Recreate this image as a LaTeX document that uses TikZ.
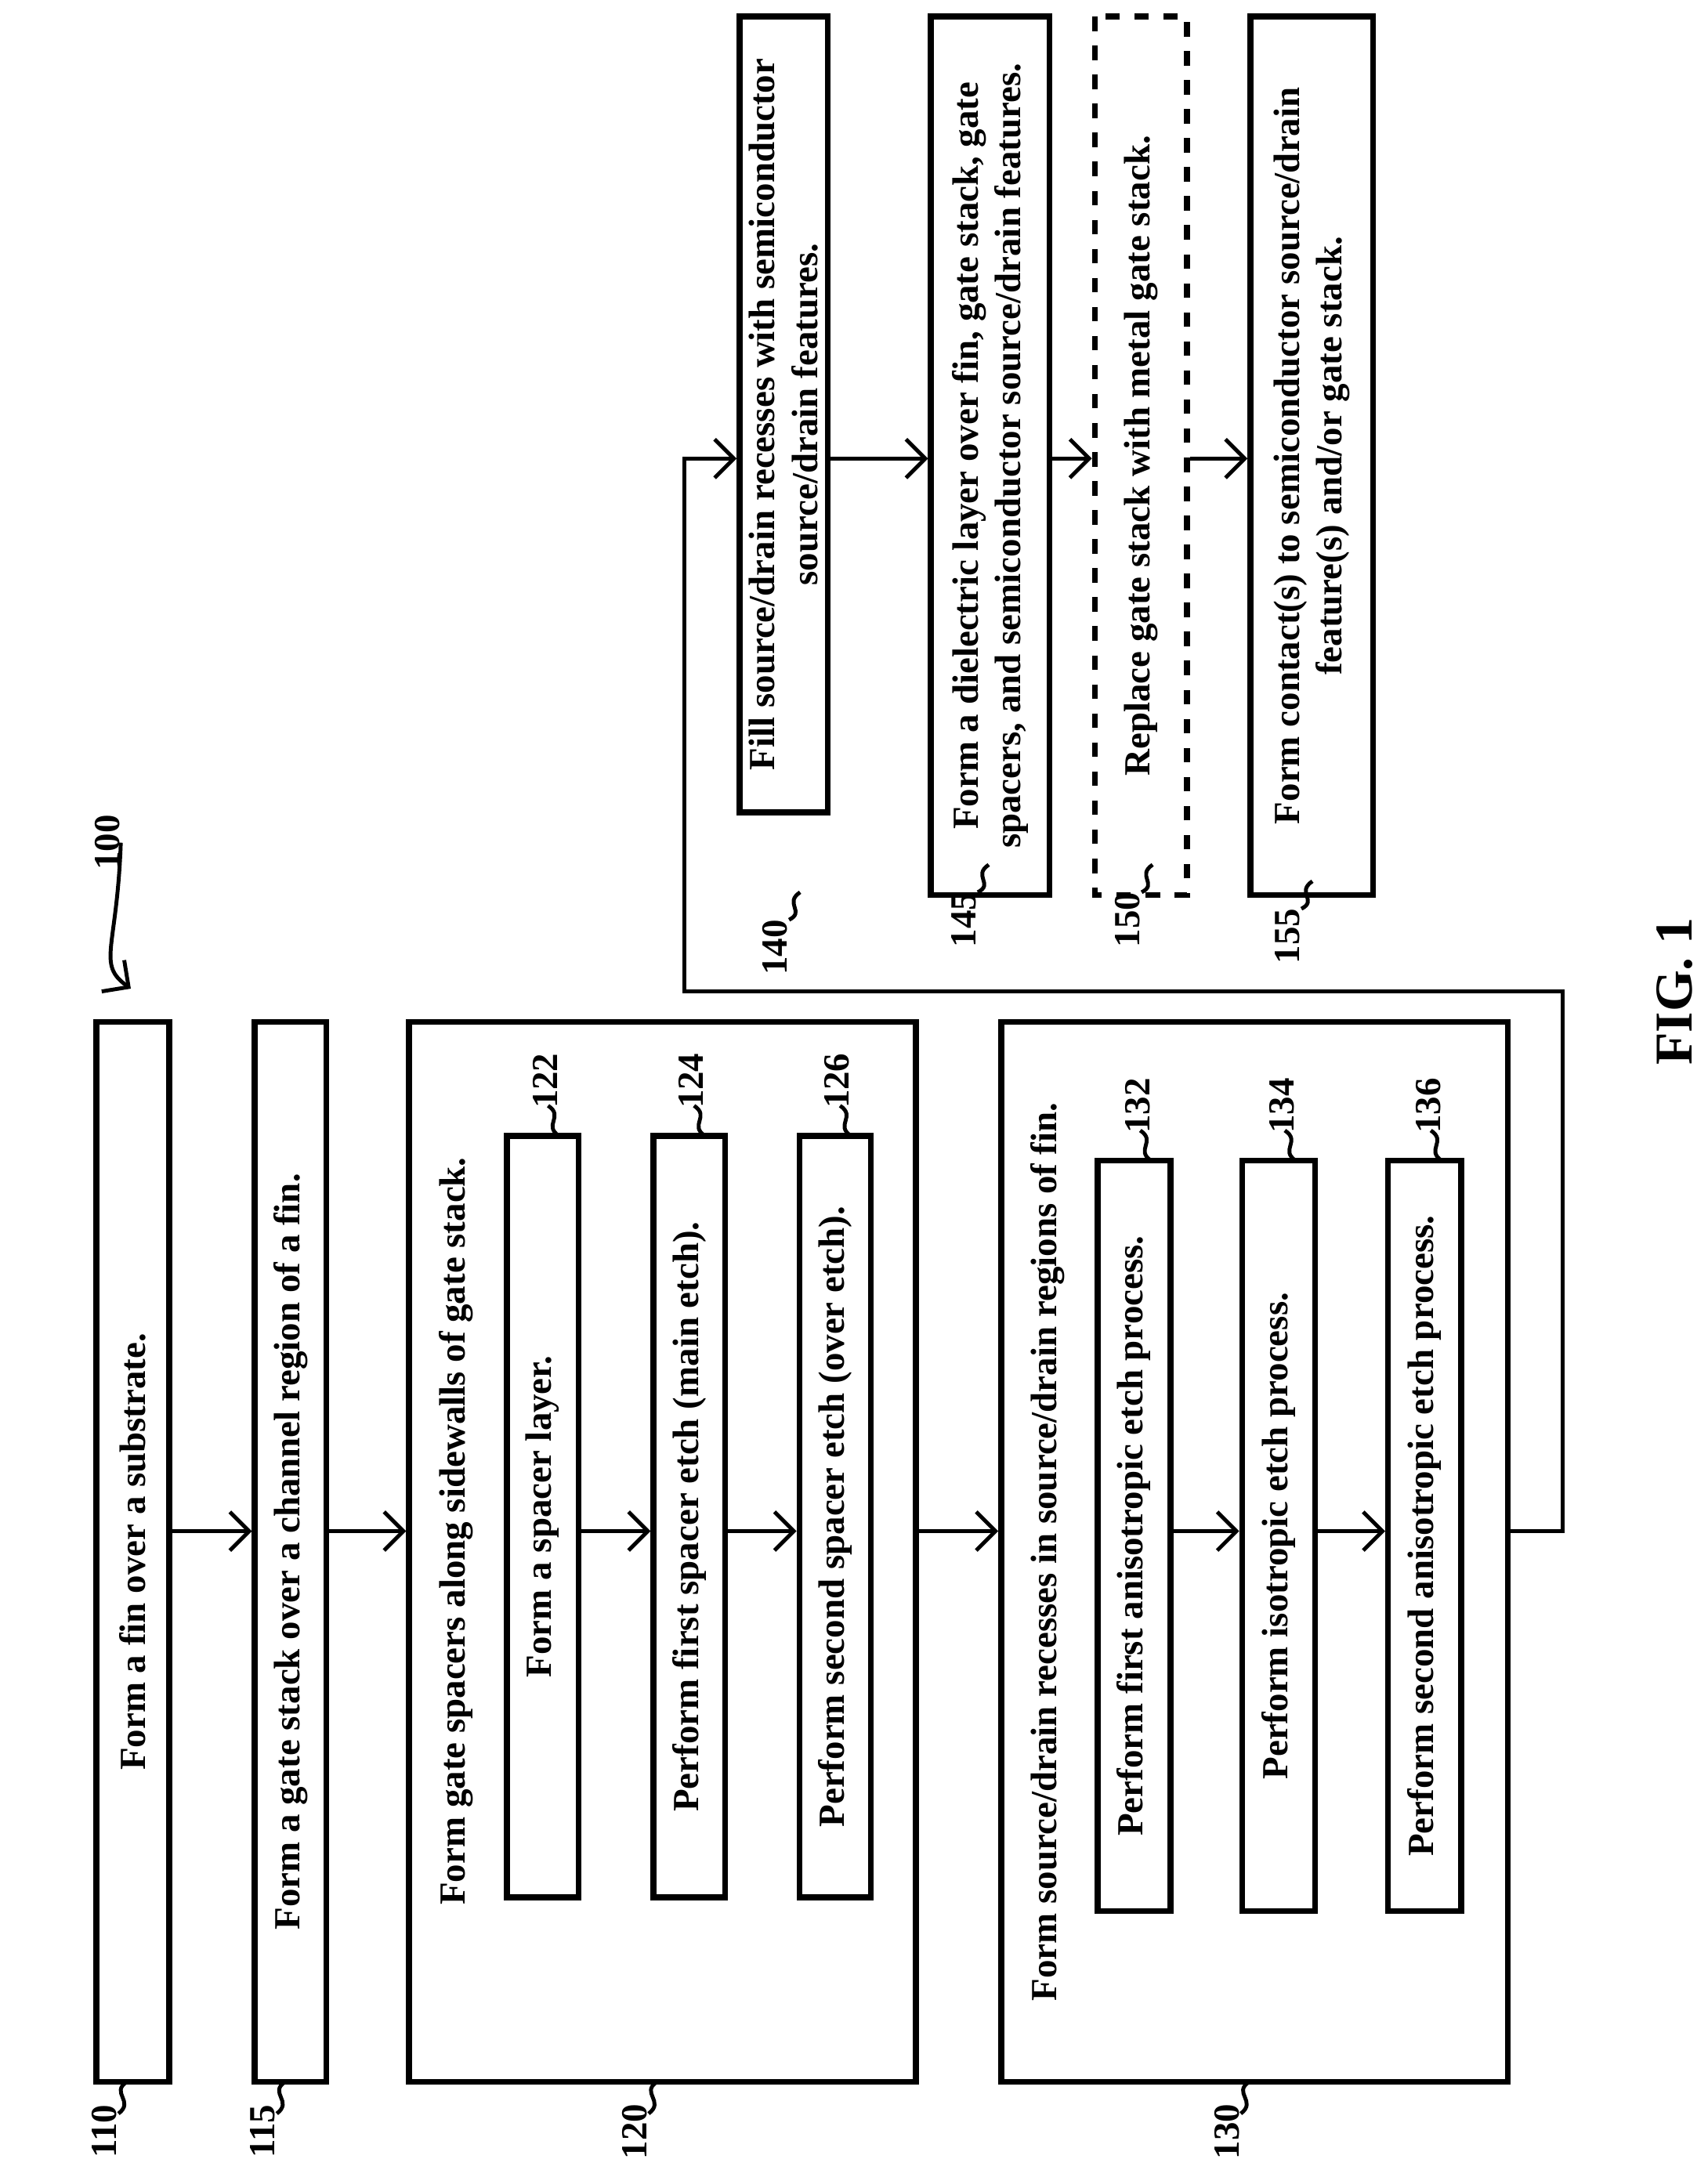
\documentclass[tikz,border=0pt]{standalone}
\usepackage{fontspec}
\setmainfont{Liberation Serif}
\usetikzlibrary{arrows.meta}
\tikzset{
  procbox/.style={draw, very thick, rotate=90, align=center, inner sep=2pt, font=\bfseries\fontsize{7.6}{8.8}\selectfont},
  arr/.style={thick, -{Straight Barb[length=1.4mm]}},
  lbl/.style={rotate=90, inner sep=0pt, font=\bfseries\fontsize{7.6}{8.8}\selectfont},
  sq/.style={thick}
}
\begin{document}
\begin{tikzpicture}[x=0.1mm, y=-0.1mm]
\useasboundingbox (0,0) rectangle (1240,1568);

% outer steps
\node[procbox, minimum width=77mm, minimum height=5.3mm] (b110) at (96.5,1127) {Form a fin over a substrate.};
\node[procbox, minimum width=77mm, minimum height=5.2mm] (b115) at (211,1127) {Form a gate stack over a channel region of a fin.};
\node[procbox, minimum width=77mm, minimum height=36.8mm] (b120) at (481,1127) {};
\node[procbox, minimum width=77mm, minimum height=36.8mm] (b130) at (911,1127) {};
\node[lbl] (t120) at (331,1112) {Form gate spacers along sidewalls of gate stack.};
\node[lbl] (t130) at (761,1127) {Form source/drain recesses in source/drain regions of fin.};

% sub steps
\node[procbox, minimum width=55.3mm, minimum height=5.2mm] (b122) at (394,1101.5) {Form a spacer layer.};
\node[procbox, minimum width=55.3mm, minimum height=5.2mm] (b124) at (500.5,1101.5) {Perform first spacer etch (main etch).};
\node[procbox, minimum width=55.3mm, minimum height=5.2mm] (b126) at (606.5,1101.5) {Perform second spacer etch (over etch).};
\node[procbox, minimum width=54.5mm, minimum height=5.3mm] (b132) at (823.5,1115.5) {Perform first anisotropic etch process.};
\node[procbox, minimum width=54.5mm, minimum height=5.3mm] (b134) at (928.5,1115.5) {Perform isotropic etch process.};
\node[procbox, minimum width=54.5mm, minimum height=5.3mm] (b136) at (1034.5,1115.5) {Perform second anisotropic etch process.};

% later steps
\node[procbox, minimum width=57.8mm, minimum height=5.6mm] (b140) at (569,301) {Fill source/drain recesses with semiconductor\\source/drain features.};
\node[procbox, minimum width=63.8mm, minimum height=8.6mm] (b145) at (719,331) {Form a dielectric layer over fin, gate stack, gate\\spacers, and semiconductor source/drain features.};
\node[procbox, dashed, minimum width=63.8mm, minimum height=6.7mm] (b150) at (828.5,331) {Replace gate stack with metal gate stack.};
\node[procbox, minimum width=63.8mm, minimum height=8.9mm] (b155) at (952.5,331) {Form contact(s) to semiconductor source/drain\\feature(s) and/or gate stack.};

% connectors
\coordinate (ay) at (0,1112);
\coordinate (by) at (0,333);
\draw[arr] (b110.south |- ay) -- (b115.north |- ay);
\draw[arr] (b115.south |- ay) -- (b120.north |- ay);
\draw[arr] (b122.south |- ay) -- (b124.north |- ay);
\draw[arr] (b124.south |- ay) -- (b126.north |- ay);
\draw[arr] (b120.south |- ay) -- (b130.north |- ay);
\draw[arr] (b132.south |- ay) -- (b134.north |- ay);
\draw[arr] (b134.south |- ay) -- (b136.north |- ay);
\coordinate (t1) at (1135,720);
\coordinate (t2) at (497,333);
\draw[arr] (b130.south |- ay) -| (t1) -| (t2) -- (b140.north |- by);
\draw[arr] (b140.south |- by) -- (b145.north |- by);
\draw[arr] (b145.south |- by) -- (b150.north |- by);
\draw[arr] (b150.south |- by) -- (b155.north |- by);

% reference numerals
\foreach \n/\x in {110/76,115/191,120/461,130/891}{
  \node[lbl] (l\n) at (\x,1548) {\n};
  \draw[sq] (\x+16,1512) .. controls (\x+4,1520) and (\x+22,1526) .. (\x+10,1535);
}
\foreach \n/\x/\y in {122/396/795,124/502/795,126/608/795,132/826/813,134/931/813,136/1037/813}{
  \node[lbl] (l\n) at (\x,\y-10) {\n};
  \draw[sq] (\x+10,\y+30) .. controls (\x-2,\y+22) and (\x+14,\y+16) .. (\x+2,\y+8);
}
\foreach \n/\x/\y in {140/563/688,145/700/668,150/819/668,155/935/680}{
  \node[lbl] (l\n) at (\x,\y) {\n};
  \draw[sq] (\x+10,\y-20) .. controls (\x+22,\y-26) and (\x+6,\y-32) .. (\x+18,\y-40);
}
\node[lbl] (l100) at (78,612) {100};
\draw[arr] (l100.south) .. controls (85,690) and (70,700) .. (95,718);
\node[lbl, font=\bfseries\fontsize{11}{12}\selectfont] (fig) at (1216,720) {FIG. 1};
\end{tikzpicture}
\end{document}
